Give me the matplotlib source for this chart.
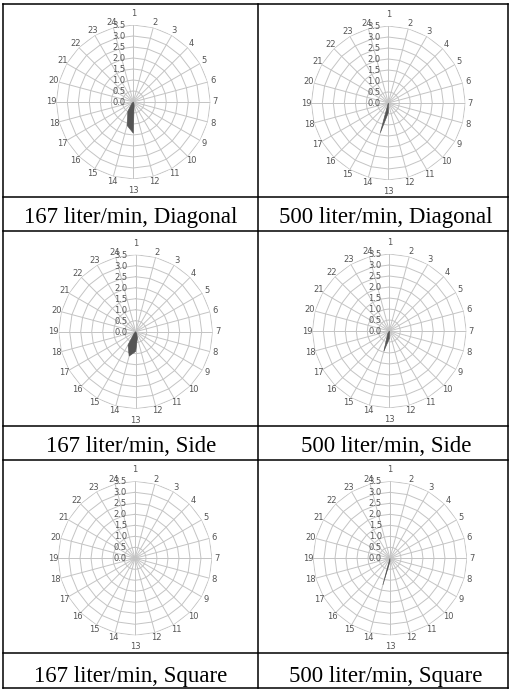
import numpy as np
import matplotlib
matplotlib.use("Agg")
import matplotlib.pyplot as plt
from matplotlib.lines import Line2D
import matplotlib.transforms as mtransforms

# ---------------- data ----------------
categories = [str(i) for i in range(1, 25)]
r_ticks = [0.0, 0.5, 1.0, 1.5, 2.0, 2.5, 3.0, 3.5]
r_tick_labels = ["0.0", "0.5", "1.0", "1.5", "2.0", "2.5", "3.0", "3.5"]

captions = ["167 liter/min, Diagonal", "500 liter/min, Diagonal",
            "167 liter/min, Side", "500 liter/min, Side",
            "167 liter/min, Square", "500 liter/min, Square"]

#              1  2  3  4  5  6  7  8  9  10   11    12    13    14    15    16  17 18 19 20 21 22 23 24
diag_167   = [0, 0, 0, 0, 0, 0, 0, 0, 0, 0, 0.05, 0.15, 1.42, 1.10, 0.50, 0.10, 0, 0, 0, 0, 0, 0, 0, 0]
diag_500   = [0, 0, 0, 0, 0, 0, 0, 0, 0, 0, 0.00, 0.05, 0.45, 1.40, 0.00, 0.00, 0, 0, 0, 0, 0, 0, 0, 0]
side_167   = [0, 0, 0, 0, 0, 0, 0, 0, 0, 0, 0.10, 0.30, 0.90, 1.15, 0.70, 0.10, 0, 0, 0, 0, 0, 0, 0, 0]
side_500   = [0, 0, 0, 0, 0, 0, 0, 0, 0, 0, 0.00, 0.05, 0.35, 0.95, 0.15, 0.00, 0, 0, 0, 0, 0, 0, 0, 0]
square_167 = [0, 0, 0, 0, 0, 0, 0, 0, 0, 0, 0.00, 0.00, 0.00, 0.00, 0.00, 0.00, 0, 0, 0, 0, 0, 0, 0, 0]
square_500 = [0, 0, 0, 0, 0, 0, 0, 0, 0, 0, 0.00, 0.00, 0.15, 1.25, 0.00, 0.00, 0, 0, 0, 0, 0, 0, 0, 0]

series = [diag_167, diag_500, side_167, side_500, square_167, square_500]

# ---------------- layout ----------------
W, H = 510, 690
fig = plt.figure(figsize=(W / 100, H / 100), dpi=100)
fig.patch.set_facecolor("white")

GRID_C = "#c4c4c4"
LABEL_C = "#555555"
FILL_C = "#555555"

# table lines (pixel positions, y from top)
h_lines = [4, 197, 231, 426, 460, 653, 688]
v_lines = [3, 258, 508]
for y in h_lines:
    fig.add_artist(Line2D([v_lines[0] / W, v_lines[-1] / W], [1 - y / H, 1 - y / H],
                          transform=fig.transFigure, color="black", lw=1.1))
for x in v_lines:
    fig.add_artist(Line2D([x / W, x / W], [1 - h_lines[0] / H, 1 - h_lines[-1] / H],
                          transform=fig.transFigure, color="black", lw=1.1))

centers = [(133.3, 102.0), (388.3, 103.0),
           (135.7, 331.7), (389.3, 331.0),
           (135.0, 558.3), (390.0, 558.3)]
R = 77.0
caption_pos = [(131, 222.5), (386, 222.5),
               (131, 451.7), (386, 451.7),
               (131, 681.7), (386, 681.7)]

theta = np.deg2rad(np.arange(len(categories)) * 360.0 / len(categories))
theta_c = np.append(theta, theta[0])

for (cx, cy), vals, cap, (tx, ty) in zip(centers, series, captions, caption_pos):
    ax = fig.add_axes([(cx - R) / W, 1 - (cy + R) / H, 2 * R / W, 2 * R / H],
                      projection="polar")
    ax.set_theta_zero_location("N")
    ax.set_theta_direction(-1)
    ax.set_ylim(0, r_ticks[-1])
    ax.axis("off")

    # polygonal rings
    for rv in r_ticks[1:]:
        ax.plot(theta_c, [rv] * len(theta_c), color=GRID_C, lw=0.7, zorder=1)
    # spokes
    for t in theta:
        ax.plot([t, t], [0, r_ticks[-1]], color=GRID_C, lw=0.7, zorder=1)

    v = np.asarray(vals, dtype=float)
    ax.fill(theta_c, np.append(v, v[0]), color=FILL_C, lw=0.4,
            edgecolor=FILL_C, zorder=3)

    # category labels
    for t, lab in zip(theta, categories):
        rl = 3.73 + 0.29 * (abs(np.cos(t)) > 0.99)
        ax.text(t, rl, lab, ha="center", va="center", fontsize=6,
                color=LABEL_C, clip_on=False)

    # value labels
    off = mtransforms.offset_copy(ax.transData, fig=fig, x=-8, y=-0.5, units="dots")
    for rv, lab in zip(r_ticks, r_tick_labels):
        ax.text(0, rv, lab, ha="right", va="center", fontsize=6, color=LABEL_C,
                transform=off, clip_on=False)

    fig.text(tx / W, 1 - ty / H, cap, ha="center", va="baseline",
             fontsize=16.5, family="Liberation Serif", color="black")

fig.savefig("out.png", dpi=100, facecolor="white")
